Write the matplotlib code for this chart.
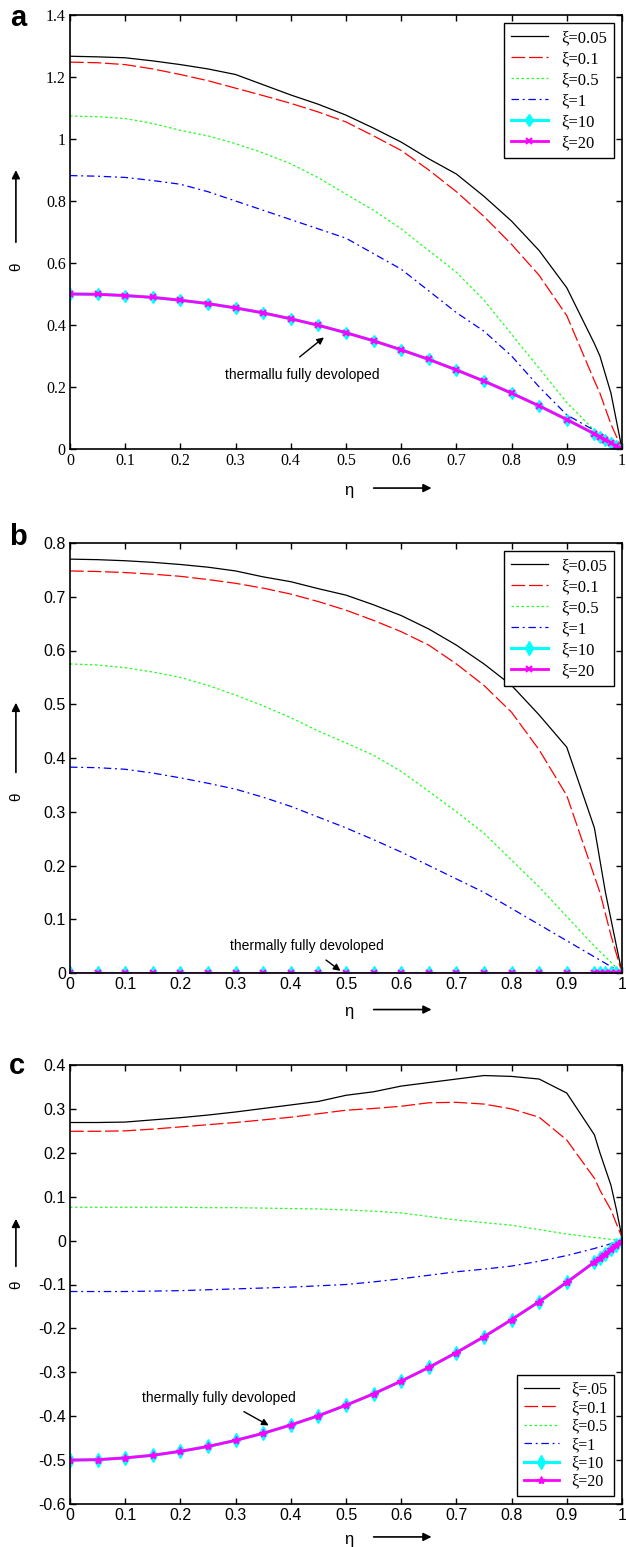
import numpy as np
from matplotlib import pyplot as plt


plt.rcParams["axes.unicode_minus"] = False

# Безрозмірний радіус (спільна сітка для всіх кривих)
eta = [0, 0.05, 0.1, 0.15, 0.2, 0.25, 0.3, 0.35, 0.4, 0.45, 0.5, 0.55, 0.6,
       0.65, 0.7, 0.75, 0.8, 0.85, 0.9, 0.95, 0.96, 0.97, 0.98, 0.99, 1.0]

labels_ab = ["ξ=0.05", "ξ=0.1", "ξ=0.5", "ξ=1", "ξ=10", "ξ=20"]
labels_c = ["ξ=.05", "ξ=0.1", "ξ=0.5", "ξ=1", "ξ=10", "ξ=20"]

# Рисунок a
a_005 = [1.267, 1.265, 1.262, 1.252, 1.240, 1.226, 1.208, 1.175, 1.142, 1.112,
         1.077, 1.035, 0.990, 0.936, 0.887, 0.815, 0.735, 0.640, 0.520, 0.340,
         0.300, 0.240, 0.180, 0.090, 0.0]
a_01 = [1.248, 1.246, 1.240, 1.226, 1.208, 1.188, 1.164, 1.140, 1.115, 1.087,
        1.055, 1.010, 0.963, 0.900, 0.830, 0.750, 0.660, 0.560, 0.430, 0.220,
        0.180, 0.130, 0.080, 0.040, 0.0]
a_05 = [1.074, 1.072, 1.066, 1.050, 1.028, 1.010, 0.985, 0.955, 0.920, 0.875,
        0.822, 0.770, 0.710, 0.640, 0.570, 0.480, 0.370, 0.260, 0.150, 0.060,
        0.045, 0.030, 0.020, 0.010, 0.0]
a_1 = [0.882, 0.880, 0.876, 0.866, 0.854, 0.830, 0.800, 0.770, 0.740, 0.710,
       0.680, 0.630, 0.580, 0.510, 0.440, 0.380, 0.300, 0.200, 0.110, 0.060,
       0.050, 0.040, 0.025, 0.012, 0.0]
a_10 = [0.500, 0.499, 0.495, 0.489, 0.480, 0.469, 0.455, 0.439, 0.420, 0.399,
        0.375, 0.349, 0.320, 0.289, 0.255, 0.219, 0.180, 0.139, 0.095, 0.049,
        0.039, 0.030, 0.020, 0.010, 0.0]
a_20 = [0.500, 0.499, 0.495, 0.489, 0.480, 0.469, 0.455, 0.439, 0.420, 0.399,
        0.375, 0.349, 0.320, 0.289, 0.255, 0.219, 0.180, 0.139, 0.095, 0.049,
        0.039, 0.030, 0.020, 0.010, 0.0]

# Рисунок b
b_005 = [0.770, 0.769, 0.767, 0.764, 0.760, 0.755, 0.748, 0.737, 0.728, 0.715,
         0.703, 0.685, 0.665, 0.640, 0.610, 0.575, 0.535, 0.480, 0.420, 0.270,
         0.210, 0.150, 0.100, 0.050, 0.0]
b_01 = [0.748, 0.747, 0.745, 0.742, 0.738, 0.732, 0.725, 0.716, 0.705, 0.691,
        0.675, 0.656, 0.635, 0.610, 0.575, 0.535, 0.485, 0.415, 0.330, 0.180,
        0.150, 0.110, 0.070, 0.035, 0.0]
b_05 = [0.575, 0.573, 0.568, 0.560, 0.550, 0.535, 0.517, 0.497, 0.475, 0.450,
        0.428, 0.405, 0.375, 0.338, 0.300, 0.260, 0.210, 0.160, 0.105, 0.050,
        0.040, 0.030, 0.020, 0.010, 0.0]
b_1 = [0.383, 0.382, 0.379, 0.372, 0.363, 0.353, 0.342, 0.327, 0.310, 0.290,
       0.270, 0.248, 0.225, 0.200, 0.175, 0.150, 0.120, 0.090, 0.060, 0.030,
       0.024, 0.018, 0.012, 0.006, 0.0]
b_10 = [0.0] * 25
b_20 = [0.0] * 25

# Рисунок c
c_005 = [0.269, 0.269, 0.270, 0.275, 0.280, 0.286, 0.293, 0.301, 0.309, 0.317,
         0.331, 0.339, 0.352, 0.360, 0.368, 0.376, 0.374, 0.368, 0.336, 0.241,
         0.200, 0.163, 0.126, 0.070, 0.007]
c_01 = [0.249, 0.249, 0.250, 0.254, 0.259, 0.264, 0.269, 0.275, 0.281, 0.289,
        0.297, 0.301, 0.306, 0.314, 0.315, 0.311, 0.300, 0.281, 0.229, 0.142,
        0.115, 0.092, 0.070, 0.038, 0.007]
c_05 = [0.076, 0.076, 0.076, 0.076, 0.076, 0.075, 0.075, 0.074, 0.073, 0.072,
        0.070, 0.067, 0.063, 0.055, 0.047, 0.041, 0.035, 0.025, 0.015, 0.007,
        0.006, 0.004, 0.003, 0.001, 0.0]
c_1 = [-0.116, -0.116, -0.116, -0.115, -0.114, -0.112, -0.110, -0.108, -0.106,
       -0.103, -0.100, -0.094, -0.087, -0.079, -0.071, -0.065, -0.058, -0.047,
       -0.034, -0.018, -0.014, -0.011, -0.007, -0.004, 0.0]
c_10 = [-0.500, -0.499, -0.495, -0.489, -0.480, -0.469, -0.455, -0.439, -0.420,
        -0.399, -0.375, -0.349, -0.320, -0.289, -0.255, -0.219, -0.180, -0.139,
        -0.095, -0.049, -0.039, -0.030, -0.020, -0.010, 0.0]
c_20 = [-0.500, -0.499, -0.495, -0.489, -0.480, -0.469, -0.455, -0.439, -0.420,
        -0.399, -0.375, -0.349, -0.320, -0.289, -0.255, -0.219, -0.180, -0.139,
        -0.095, -0.049, -0.039, -0.030, -0.020, -0.010, 0.0]

x_ticks = [0, 0.1, 0.2, 0.3, 0.4, 0.5, 0.6, 0.7, 0.8, 0.9, 1]
x_ticklabels = ["0", "0.1", "0.2", "0.3", "0.4", "0.5", "0.6", "0.7", "0.8",
                "0.9", "1"]
ya_ticks = [0, 0.2, 0.4, 0.6, 0.8, 1.0, 1.2, 1.4]
ya_ticklabels = ["0", "0.2", "0.4", "0.6", "0.8", "1", "1.2", "1.4"]
yb_ticks = [0, 0.1, 0.2, 0.3, 0.4, 0.5, 0.6, 0.7, 0.8]
yb_ticklabels = ["0", "0.1", "0.2", "0.3", "0.4", "0.5", "0.6", "0.7", "0.8"]
yc_ticks = [-0.6, -0.5, -0.4, -0.3, -0.2, -0.1, 0, 0.1, 0.2, 0.3, 0.4]
yc_ticklabels = ["-0.6", "-0.5", "-0.4", "-0.3", "-0.2", "-0.1", "0", "0.1",
                 "0.2", "0.3", "0.4"]

SERIF = ["Liberation Serif", "DejaVu Serif"]
SANS = ["Liberation Sans", "DejaVu Sans"]
CYAN = "#00ffff"
MAGENTA = "#ff00ff"
GREEN = "#22ff22"

W, H = 626, 1547


def box(left, top, right, bottom):
    """ Переводить пікселі у частки полотна """
    return [left / W, 1 - bottom / H, (right - left) / W, (bottom - top) / H]


def draw_panel(fig, rect, series, labels, yticks, yticklabels, ylim,
               tick_family, cyan_style, magenta_style):
    ax = fig.add_axes(rect)
    ax.plot(eta, series[0], color="k", lw=0.9, label=labels[0])
    ax.plot(eta, series[1], color="r", lw=0.9, dashes=(11, 3), label=labels[1])
    ax.plot(eta, series[2], color=GREEN, lw=0.9, dashes=(2, 2),
            label=labels[2])
    ax.plot(eta, series[3], color="b", lw=0.9, dashes=(6, 3, 1.5, 3),
            label=labels[3])
    ax.plot(eta, series[4], color=CYAN, lw=2.2, label=labels[4], **cyan_style)
    ax.plot(eta, series[5], color=MAGENTA, lw=2, label=labels[5],
            **magenta_style)

    ax.set_xlim(0, 1)
    ax.set_ylim(*ylim)
    ax.set_xticks(x_ticks)
    ax.set_xticklabels(x_ticklabels, family=tick_family, fontsize=11.5)
    ax.set_yticks(yticks)
    ax.set_yticklabels(yticklabels, family=tick_family, fontsize=11.5)
    ax.tick_params(direction="in", top=True, right=True, length=4, width=1,
                   pad=3)
    for s in ax.spines.values():
        s.set_linewidth(1.2)
    return ax


def axis_labels(ax, theta_pos, eta_y):
    """ Підписи осей зі стрілками """
    t_tip, t_tail, t_text = theta_pos
    ax.annotate("", xy=(-0.098, t_tip), xytext=(-0.098, t_tail),
                xycoords="axes fraction",
                arrowprops=dict(arrowstyle="-|>", color="k", lw=1.2,
                                mutation_scale=12))
    ax.text(-0.098, t_text, "θ", rotation=90, transform=ax.transAxes,
            ha="center", va="center", fontsize=11, family=SANS)
    ax.text(0.505, eta_y, "η", transform=ax.transAxes, ha="center",
            va="center", fontsize=12, family=SANS)
    ax.annotate("", xy=(0.66, eta_y + 0.005), xytext=(0.545, eta_y + 0.005),
                xycoords="axes fraction",
                arrowprops=dict(arrowstyle="-|>", color="k", lw=1.2,
                                mutation_scale=12))


fig = plt.figure(figsize=(W / 100, H / 100), dpi=100)

# ---- a ----
ax_a = draw_panel(fig, box(70, 15, 622, 449),
                  [a_005, a_01, a_05, a_1, a_10, a_20], labels_ab,
                  ya_ticks, ya_ticklabels, (0, 1.4), SERIF,
                  dict(marker="d", ms=6),
                  dict(marker="x", ms=4, mew=1.5))
ax_a.legend(loc="upper right", prop=dict(family=SERIF, size=12),
            fancybox=False, edgecolor="k", framealpha=1, borderaxespad=0.5,
            labelspacing=0.3, handlelength=2.2)
ax_a.annotate("thermallu fully devoloped", xy=(0.46, 0.36),
              xytext=(0.42, 0.24), ha="center", va="center", fontsize=10,
              family=SANS,
              arrowprops=dict(arrowstyle="-|>", color="k", lw=1,
                              mutation_scale=10, shrinkA=9, shrinkB=0,
                              relpos=(0.4, 1)))
axis_labels(ax_a, (0.649, 0.47, 0.42), -0.095)
fig.text(18 / W, 1 - 18 / H, "a", ha="center", va="center", fontsize=21,
         fontweight="bold", family=SANS)

# ---- b ----
ax_b = draw_panel(fig, box(70, 543, 622, 973),
                  [b_005, b_01, b_05, b_1, b_10, b_20], labels_ab,
                  yb_ticks, yb_ticklabels, (0, 0.8), SANS,
                  dict(marker="d", ms=7),
                  dict(marker="x", ms=4, mew=1.5))
ax_b.legend(loc="upper right", prop=dict(family=SERIF, size=12),
            fancybox=False, edgecolor="k", framealpha=1, borderaxespad=0.5,
            labelspacing=0.3, handlelength=2.2)
ax_b.annotate("thermally fully devoloped", xy=(0.49, 0.004),
              xytext=(0.43, 0.05), ha="center", va="center", fontsize=10,
              family=SANS,
              arrowprops=dict(arrowstyle="-|>", color="k", lw=1,
                              mutation_scale=10, shrinkA=5, shrinkB=0))
axis_labels(ax_b, (0.635, 0.46, 0.41), -0.09)
fig.text(18 / W, 1 - 537 / H, "b", ha="center", va="center", fontsize=21,
         fontweight="bold", family=SANS)

# ---- c ----
ax_c = draw_panel(fig, box(70, 1065, 622, 1504),
                  [c_005, c_01, c_05, c_1, c_10, c_20], labels_c,
                  yc_ticks, yc_ticklabels, (-0.6, 0.4), SANS,
                  dict(marker="d", ms=7),
                  dict(marker="*", ms=6))
ax_c.legend(loc="lower right", prop=dict(family=SERIF, size=11.5),
            fancybox=False, edgecolor="k", framealpha=1, borderaxespad=0.5,
            labelspacing=0.15, handlelength=2.2)
ax_c.annotate("thermally fully devoloped", xy=(0.36, -0.421),
              xytext=(0.27, -0.358), ha="center", va="center", fontsize=10,
              family=SANS,
              arrowprops=dict(arrowstyle="-|>", color="k", lw=1,
                              mutation_scale=10, shrinkA=6, shrinkB=0))
axis_labels(ax_c, (0.656, 0.535, 0.50), -0.08)
fig.text(17 / W, 1 - 1066 / H, "c", ha="center", va="center", fontsize=21,
         fontweight="bold", family=SANS)

fig.savefig("out.png", dpi=100)
